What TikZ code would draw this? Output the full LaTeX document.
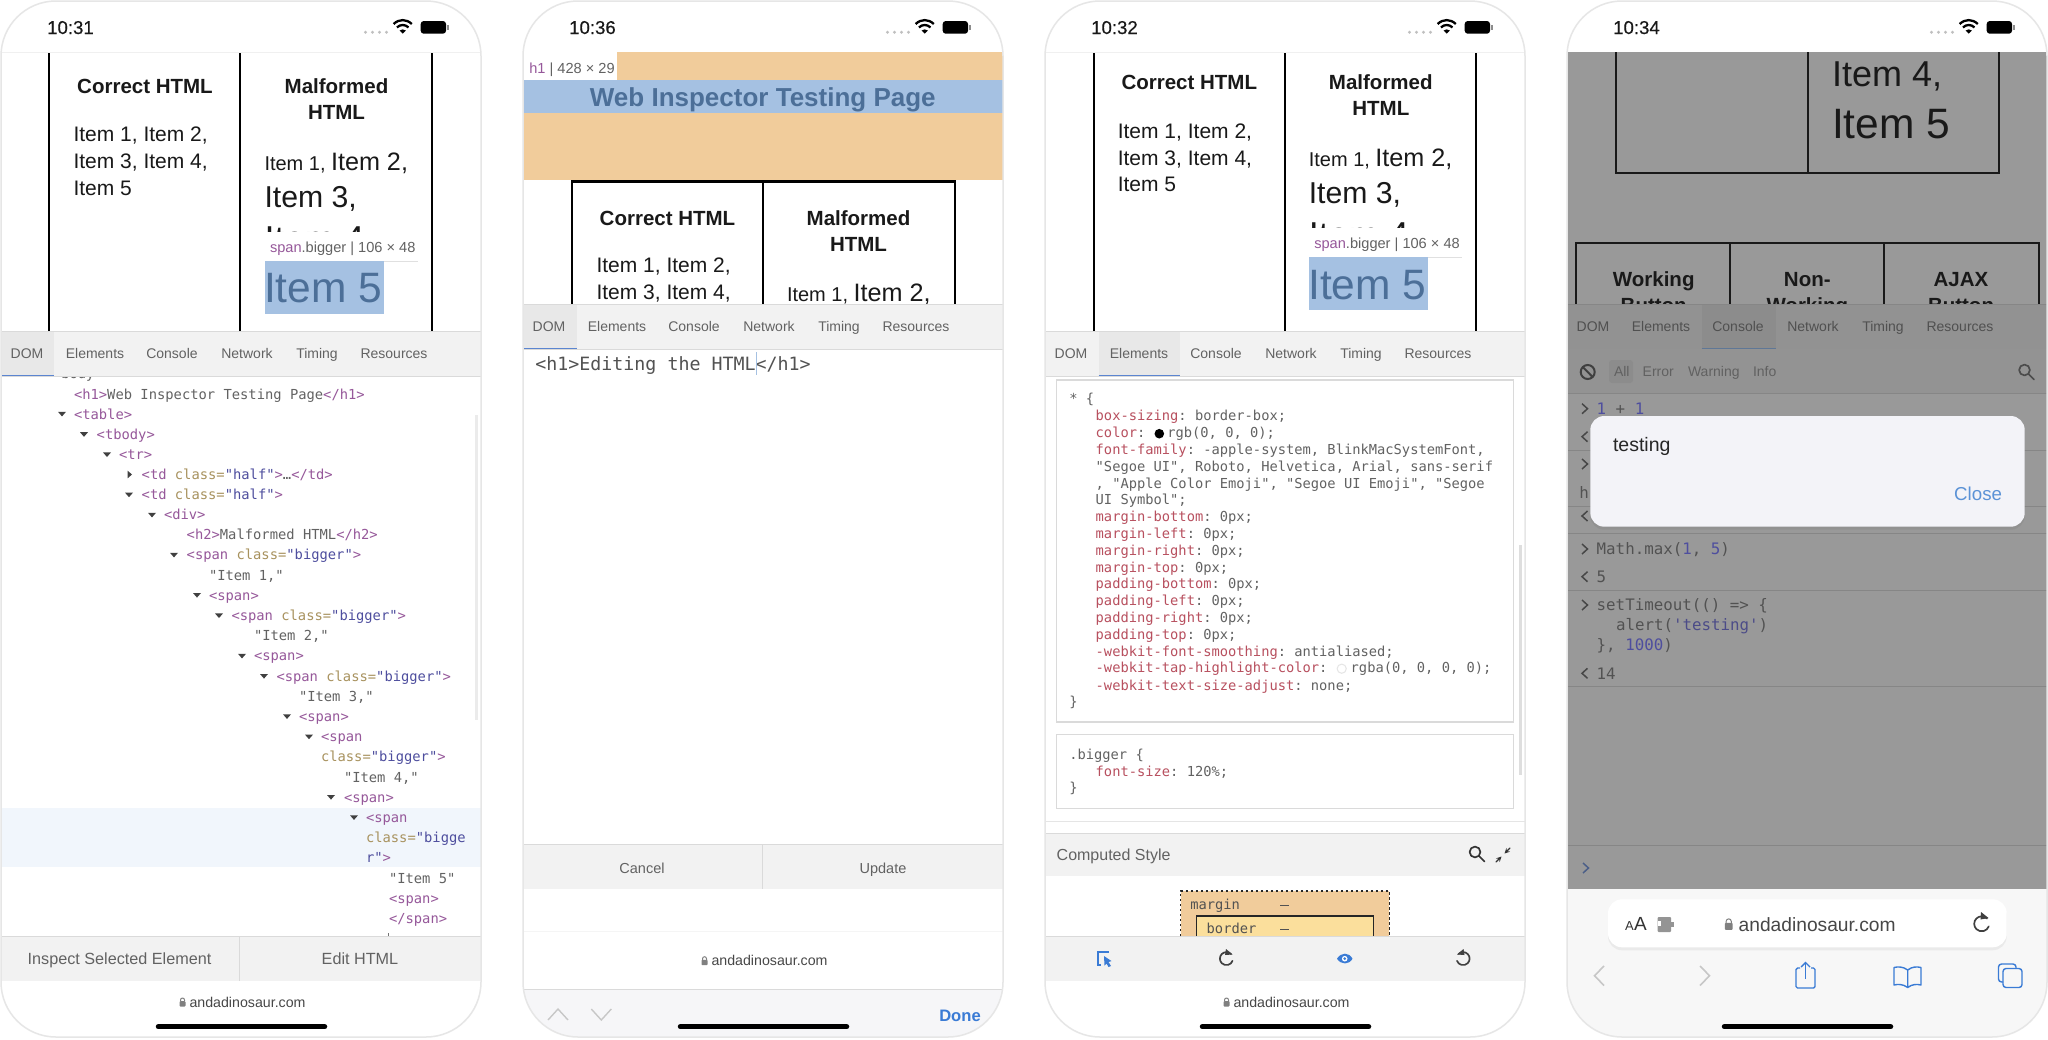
\documentclass[tikz,border=0pt]{standalone}
\usepackage{fontspec}
\setmainfont{Liberation Sans}
\setmonofont{DejaVu Sans Mono}
\newfontfamily\medfont[FakeBold=0.35]{Liberation Sans}
\usetikzlibrary{shadows}

\definecolor{framec}{HTML}{E6E6E6}
\definecolor{barc}{HTML}{F2F2F2}
\definecolor{barline}{HTML}{DADADA}
\definecolor{seltab}{HTML}{E8E8E8}
\definecolor{tabblue}{HTML}{5B85D0}
\definecolor{graytext}{HTML}{626262}
\definecolor{tagc}{HTML}{96589A}
\definecolor{attrc}{HTML}{A8925E}
\definecolor{valc}{HTML}{4E4E9E}
\definecolor{propc}{HTML}{B8505F}
\definecolor{orangec}{HTML}{F1CC9B}
\definecolor{bluec}{HTML}{A5C1E2}
\definecolor{blueink}{HTML}{4C6F98}
\definecolor{linkc}{HTML}{3A7BD5}
\definecolor{overlayc}{HTML}{999999}
\definecolor{rowc}{HTML}{F1F6FC}
\definecolor{safaric}{HTML}{F7F7F7}
\definecolor{toolc}{HTML}{F6F6F8}
\definecolor{borderboxc}{HTML}{FBDF9C}
\definecolor{darkbar}{HTML}{929292}
\definecolor{darksel}{HTML}{8C8C8C}
\definecolor{darkline}{HTML}{868686}
\definecolor{darkblue}{HTML}{5F7796}
\definecolor{darktext}{HTML}{505050}
\definecolor{darktool}{HTML}{939393}
\definecolor{dialogc}{HTML}{F3F3F8}
\definecolor{closec}{HTML}{5B92D6}
\definecolor{stringc}{HTML}{4C4C88}
\definecolor{promptc}{HTML}{4C5F88}

\newcommand{\fsz}[1]{\fontsize{#1}{#1}\selectfont}
\newcommand{\ctag}[1]{\textcolor{tagc}{#1}}
\newcommand{\cattr}[1]{\textcolor{attrc}{#1}}
\newcommand{\cval}[1]{\textcolor{valc}{#1}}
\newcommand{\cprop}[1]{\textcolor{propc}{#1}}
\newcommand{\cls}[1]{\cattr{class=}\cval{"#1"}\ctag{>}}

\tikzset{
	every node/.style={inner sep=0pt,outer sep=0pt},
	phoneshape/.style={rounded corners=55pt},
	heading/.style={anchor=base,font=\fsz{20.5}\bfseries,text=black!90},
	itemtext/.style={anchor=base west,text=black!90},
	tabtext/.style={anchor=base,font=\fsz{14},text=graytext},
	btntext/.style={anchor=base,font=\fsz{16.2},text=graytext},
	domtext/.style={anchor=base west,font=\ttfamily\fsz{13.8},text=graytext},
	csstext/.style={anchor=base west,font=\ttfamily\fsz{13.75},text=graytext},
	context/.style={anchor=base west,font=\ttfamily\fsz{15.8},text=black!68},
	urltext/.style={anchor=base west,font=\fsz{14.2},text=black!72},
	icon/.style={line width=1.7pt,line cap=round,line join=round},
	hairline/.style={draw=barline,line width=1pt}
}

\newcounter{textnum}
\newcommand{\domline}[3]{\stepcounter{textnum}\node[domtext] (dom\thetextnum) at (#1,#2) {#3};}
\newcommand{\cssline}[3]{\stepcounter{textnum}\node[csstext] (css\thetextnum) at (#1,#2) {#3};}
\newcommand{\conline}[3]{\stepcounter{textnum}\node[context] (con\thetextnum) at (#1,#2) {#3};}

% status bar: time, then wifi and battery
\newcommand{\statusbar}[2]{
	\node[anchor=base west,font=\medfont\fsz{18.6},text=black!90] (time#2) at (46.2,34) {#1};
	\foreach \x in {364.5,371.5,378.5,385.5} \fill[black!25] (\x,32.3) circle (1.6);
	\draw[line width=2.3pt] (392.6,24) .. controls (398,18.8) and (405.4,18.8) .. (410.8,24);
	\draw[line width=2.3pt] (395.9,27.4) .. controls (399.5,24.2) and (403.9,24.2) .. (407.5,27.4);
	\fill (401.7,33.6) -- (398.6,30.5) .. controls (400.5,29) and (402.9,29) .. (404.8,30.5) -- cycle;
	\fill[rounded corners=3pt] (419.7,21) rectangle (445,33.7);
	\fill[black!45] (446.3,25) rectangle (447.8,30);
}
% tab bar: top edge, left and right of the chosen tab
\newcommand{\tabbar}[3]{
	\fill[barc] (0,#1) rectangle (480,#1+45);
	\fill[seltab] (#2,#1) rectangle (#3,#1+45);
	\draw[hairline] (0,#1) -- (480,#1);
	\draw[hairline] (0,#1+45) -- (480,#1+45);
	\draw[tabblue,line width=1.2pt] (#2,#1+44.5) -- (#3,#1+44.5);
	\foreach \i/\x/\t in {1/26/DOM,2/94/Elements,3/171/Console,4/246/Network,5/316/Timing,6/393/Resources}
		\node[tabtext] (tab\i-#1) at (\x,#1+27.4) {\t};
}
\newcommand{\lockicon}[3]{
	\begin{scope}[shift={(#1,#2)},scale=#3]
		\fill[black!50,rounded corners=.8pt] (-3,-.8) rectangle (3,4.5);
		\draw[black!50,line width=1pt] (-2,-.8) -- (-2,-2) .. controls (-2,-4.6) and (2,-4.6) .. (2,-2) -- (2,-.8);
	\end{scope}
}
\newcommand{\homebar}{
	\draw[line width=5.5pt,line cap=round] (157.5,1026.7) -- (323.5,1026.7);
}
\newcommand{\urlline}[2]{
	\lockicon{181.5}{#1}{1}
	\node[urltext] (url#2) at (188.5,#1+5.2) {andadinosaur.com};
}
% the two columns seen in the first and third phone
\newcommand{\tablepage}[1]{
	\node[heading] (correct#1) at (144,93.3) {Correct HTML};
	\node[heading] (malformed#1) at (335.5,93.3) {Malformed};
	\node[heading] (html#1) at (335.5,119) {HTML};
	\node[itemtext,font=\fsz{21}] (left#1a) at (72.5,141.7) {Item 1, Item 2,};
	\node[itemtext,font=\fsz{21}] (left#1b) at (72.5,168.7) {Item 3, Item 4,};
	\node[itemtext,font=\fsz{21}] (left#1c) at (72.5,195.5) {Item 5};
	\node[itemtext,font=\fsz{20}] (right#1a) at (263.5,170) {Item 1,};
	\node[itemtext,font=\fsz{25.2}] (right#1b) at (330,170) {Item 2,};
	\node[itemtext,font=\fsz{30.2}] (right#1c) at (263.5,207) {Item 3,};
	\node[itemtext,font=\fsz{36}] (right#1d) at (263.5,251) {Item 4,};
	\fill[white] (261,232) rectangle (417,261);
	\draw[black!12,line width=1pt] (383,261) -- (417,261);
	\node[anchor=base west,font=\fsz{14.6},text=graytext] (tip#1) at (269,252) {\textcolor{tagc}{span}.bigger | 106 × 48};
	\fill[bluec] (263.5,261) rectangle (382.5,314);
	\node[itemtext,font=\fsz{42.5},text=blueink] (big#1) at (263,302.7) {Item 5};
}

\begin{document}
\begin{tikzpicture}[x=1pt,y=-1pt]
	\useasboundingbox (0,0) rectangle (2048,1039);
	\fill[white] (0,0) rectangle (2048,1039);

	% first phone, DOM tree
	\begin{scope}[shift={(1,0)}]
		\begin{scope}
			\path[clip,phoneshape] (0,1) rectangle (480,1037);
			\statusbar{10:31}{a}
			\draw[black!6,line width=1pt] (0,52) -- (480,52);
			\foreach \x in {48.3,239.3,430.7}
				\draw[line width=2.2pt] (\x,53) -- (\x,331);
			\tablepage{a}
			\fill[white] (0,376) rectangle (480,936);
			\fill[rowc] (0,808) rectangle (480,867);
			\fill[black!8] (473.5,415) rectangle (476.5,720);
			\domline{52}{378.5}{\ctag{<}body\ctag{>}}
			\domline{73}{399}{\ctag{<h1>}Web Inspector Testing Page\ctag{</h1>}}
			\domline{73}{419}{\ctag{<table>}}
			\domline{95.7}{439.2}{\ctag{<tbody>}}
			\domline{118}{459.4}{\ctag{<tr>}}
			\domline{140.7}{479.6}{\ctag{<td} \cls{half}…\ctag{</td>}}
			\domline{140.7}{499.8}{\ctag{<td} \cls{half}}
			\domline{163}{519}{\ctag{<div>}}
			\domline{185.7}{539.5}{\ctag{<h2>}Malformed HTML\ctag{</h2>}}
			\domline{185.7}{559.7}{\ctag{<span} \cls{bigger}}
			\domline{208}{580}{"Item 1,"}
			\domline{208}{600}{\ctag{<span>}}
			\domline{230.5}{620.3}{\ctag{<span} \cls{bigger}}
			\domline{253}{640.5}{"Item 2,"}
			\domline{253}{660.7}{\ctag{<span>}}
			\domline{275.5}{681}{\ctag{<span} \cls{bigger}}
			\domline{298}{701}{"Item 3,"}
			\domline{298}{721.3}{\ctag{<span>}}
			\domline{320}{741.5}{\ctag{<span}}
			\domline{320}{761.7}{\cattr{class=}\cval{"bigger"}\ctag{>}}
			\domline{343}{782}{"Item 4,"}
			\domline{343}{802}{\ctag{<span>}}
			\domline{365}{822.3}{\ctag{<span}}
			\domline{365}{842.5}{\cattr{class=}\cval{"bigge}}
			\domline{365}{862.7}{\cval{r"}\ctag{>}}
			\domline{388}{883}{"Item 5"}
			\domline{388}{903}{\ctag{<span>}}
			\domline{388}{923.2}{\ctag{</span>}}
			\draw[black!55,line width=1pt] (387.5,933) -- (387.5,935.5);
			\foreach \x/\y in {61/414,83/434.4,106/454.6,128/494.8,151/515,173/555,196/595.2,218/615.6,241/656,263/676.2,286/716.5,308/736.8,330/797.2,353/817.5}
				\fill[black!75] (\x-4,\y-2.2) -- (\x+4,\y-2.2) -- (\x,\y+2.4) -- cycle;
			\fill[black!75] (126.5,470.6) -- (126.5,478.4) -- (131,474.5) -- cycle;
			\tabbar{331}{0}{53}
			\fill[barc] (0,936) rectangle (480,981);
			\draw[hairline] (0,936) -- (480,936);
			\draw[hairline] (238.5,936) -- (238.5,981);
			\node[btntext] (inspect) at (118.5,964.8) {Inspect Selected Element};
			\node[btntext] (edit) at (359,964.8) {Edit HTML};
			\urlline{1002}{a}
			\homebar
		\end{scope}
		\draw[framec,line width=1.5pt,phoneshape] (0,1) rectangle (480,1037);
	\end{scope}

	% second phone, editing the HTML
	\begin{scope}[shift={(523,0)}]
		\begin{scope}
			\path[clip,phoneshape] (0,1) rectangle (480,1037);
			\statusbar{10:36}{b}
			\fill[orangec] (0,52) rectangle (480,180);
			\fill[white] (0,52) rectangle (94.3,80);
			\node[anchor=base west,font=\fsz{14.6},text=graytext] (hlabel) at (6.3,73) {\textcolor{tagc}{h1} | 428 × 29};
			\fill[bluec] (0,80) rectangle (480,112.5);
			\node[anchor=base,font=\fsz{26}\bfseries,text=blueink] (title) at (239.8,106.5) {Web Inspector Testing Page};
			\draw[line width=2.2pt] (49,304) -- (49,181.5) -- (431.7,181.5) -- (431.7,304);
			\draw[line width=2.2pt] (240,181.5) -- (240,304);
			\node[heading] (correctb) at (144.5,225) {Correct HTML};
			\node[heading] (malformedb) at (335.5,225) {Malformed};
			\node[heading] (htmlb) at (335.5,251) {HTML};
			\node[itemtext,font=\fsz{21}] (leftba) at (73.5,272) {Item 1, Item 2,};
			\node[itemtext,font=\fsz{21}] (leftbb) at (73.5,299) {Item 3, Item 4,};
			\node[itemtext,font=\fsz{20}] (rightba) at (264,301.7) {Item 1,};
			\node[itemtext,font=\fsz{25.2}] (rightbb) at (330.5,301.7) {Item 2,};
			\tabbar{304}{0}{54}
			\node[anchor=base west,font=\ttfamily\fsz{18.3},text=black!68] (editor) at (12.3,370) {<h1>Editing the HTML</h1>};
			\draw[bluec,line width=1pt] (233.7,352) -- (233.7,375);
			\fill[barc] (0,844.3) rectangle (480,889.3);
			\draw[hairline] (0,844.3) -- (480,844.3);
			\draw[hairline] (239,844.3) -- (239,889.3);
			\node[btntext,font=\fsz{14.5}] (cancel) at (119,873) {Cancel};
			\node[btntext,font=\fsz{14.5}] (update) at (360,873) {Update};
			\draw[black!4,line width=1pt] (0,931.7) -- (480,931.7);
			\urlline{960.7}{b}
			\fill[toolc] (0,989.3) rectangle (480,1037);
			\draw[hairline] (0,989.3) -- (480,989.3);
			\draw[black!22,line width=1.4pt] (25,1020) -- (35,1009) -- (45,1020);
			\draw[black!22,line width=1.4pt] (68.3,1009) -- (78.3,1020) -- (88.3,1009);
			\node[anchor=base,font=\fsz{16.6}\bfseries,text=linkc] (done) at (437,1021.3) {Done};
			\homebar
		\end{scope}
		\draw[framec,line width=1.5pt,phoneshape] (0,1) rectangle (480,1037);
	\end{scope}

	% third phone, styles of the element
	\begin{scope}[shift={(1045,0)}]
		\begin{scope}
			\path[clip,phoneshape] (0,1) rectangle (480,1037);
			\statusbar{10:32}{c}
			\draw[black!6,line width=1pt] (0,52) -- (480,52);
			\foreach \x in {48.7,240,431}
				\draw[line width=2.2pt] (\x,53) -- (\x,331);
			\begin{scope}[shift={(0.3,-3.7)}]
				\tablepage{c}
			\end{scope}
			\tabbar{331}{53.7}{134.7}
			\draw[hairline,line width=1.4pt] (11.7,380) rectangle (468.3,722);
			\draw[hairline,line width=1.4pt] (11.7,734.3) rectangle (468.3,808.3);
			\fill[black!13] (473.5,545) rectangle (476.5,775);
			\cssline{24.3}{403.5}{* \{}
			\cssline{50.7}{420.9}{\cprop{box-sizing}: border-box;}
			\cssline{50.7}{437.9}{\cprop{color}:}
			\fill (114.3,433.7) circle (4.8);
			\cssline{122.3}{437.9}{rgb(0, 0, 0);}
			\cssline{50.7}{454.5}{\cprop{font-family}: -apple-system, BlinkMacSystemFont,}
			\cssline{50.7}{471.2}{"Segoe UI", Roboto, Helvetica, Arial, sans-serif}
			\cssline{50.7}{488.2}{, "Apple Color Emoji", "Segoe UI Emoji", "Segoe}
			\cssline{50.7}{504.9}{UI Symbol";}
			\cssline{50.7}{521.6}{\cprop{margin-bottom}: 0px;}
			\cssline{50.7}{538.9}{\cprop{margin-left}: 0px;}
			\cssline{50.7}{555.5}{\cprop{margin-right}: 0px;}
			\cssline{50.7}{572.2}{\cprop{margin-top}: 0px;}
			\cssline{50.7}{588.9}{\cprop{padding-bottom}: 0px;}
			\cssline{50.7}{605.5}{\cprop{padding-left}: 0px;}
			\cssline{50.7}{622.2}{\cprop{padding-right}: 0px;}
			\cssline{50.7}{639.2}{\cprop{padding-top}: 0px;}
			\cssline{50.7}{656.2}{\cprop{-webkit-font-smoothing}: antialiased;}
			\cssline{50.7}{672.9}{\cprop{-webkit-tap-highlight-color}:}
			\draw[black!10,line width=1pt] (296.7,668.7) circle (4.6);
			\cssline{305.7}{672.9}{rgba(0, 0, 0, 0);}
			\cssline{50.7}{690.2}{\cprop{-webkit-text-size-adjust}: none;}
			\cssline{24.3}{706.2}{\}}
			\cssline{24.3}{759.5}{.bigger \{}
			\cssline{50.7}{776.2}{\cprop{font-size}: 120\%;}
			\cssline{24.3}{792.9}{\}}
			\draw[black!10,line width=1pt] (0,821) -- (480,821);
			\fill[barc] (0,833.3) rectangle (480,876);
			\draw[hairline] (0,833.3) -- (480,833.3);
			\node[anchor=base west,font=\fsz{16},text=graytext] (computed) at (11.7,860.5) {Computed Style};
			\draw[icon,black!80] (430,852) circle (5.4);
			\draw[icon,black!80] (434,856) -- (439.5,861.5);
			\draw[icon,black!80,line width=1.3pt,-stealth] (451,862) -- (456.5,856.5);
			\draw[icon,black!80,line width=1.3pt,-stealth] (465,848) -- (459.5,853.5);
			\fill[orangec] (135.7,891) rectangle (344.3,936);
			\draw[black!85,dashed,dash pattern=on 2.5pt off 2.5pt,line width=1.2pt] (135.7,936) -- (135.7,891) -- (344.3,891) -- (344.3,936);
			\cssline{145.3}{909.5}{\textcolor{black!68}{margin}}
			\draw[black!68,line width=1pt] (235,905) -- (244,905);
			\fill[borderboxc] (151.7,916) rectangle (328.3,936);
			\draw[black!85,line width=1.2pt] (151.7,936) -- (151.7,916) -- (328.3,916) -- (328.3,936);
			\cssline{161.7}{933.5}{\textcolor{black!68}{border}}
			\draw[black!68,line width=1pt] (235,929) -- (244,929);
			\fill[barc] (0,936) rectangle (480,981);
			\draw[hairline] (0,936) -- (480,936);
			\draw[linkc,line width=1.2pt] (64,952) -- (53,952) -- (53,965) -- (56,965);
			\fill[linkc] (59,956) -- (66.5,961) -- (63.5,962) -- (66,966) -- (63.5,967) -- (61.5,963.5) -- (59.5,965.5) -- cycle;
			\draw[icon,black!75] (186,954) arc (-45:-340:6.5);
			\fill[black!75] (181,949) -- (187.5,954.5) -- (180,955) -- cycle;
			\fill[linkc] (292,958.7) .. controls (296,952) and (304,952) .. (307.5,958.7) .. controls (304,965) and (296,965) .. (292,958.7) -- cycle;
			\fill[white] (299.7,958.7) circle (2.8);
			\fill[linkc] (299.7,958.7) circle (1.5);
			\draw[icon,black!75] (413.5,954) arc (-135:160:6.5);
			\fill[black!75] (418.5,949) -- (412,954.5) -- (419.5,955) -- cycle;
			\urlline{1002}{c}
			\homebar
		\end{scope}
		\draw[framec,line width=1.5pt,phoneshape] (0,1) rectangle (480,1037);
	\end{scope}

	% fourth phone, console with an alert
	\begin{scope}[shift={(1567,0)}]
		\begin{scope}
			\path[clip,phoneshape] (0,1) rectangle (480,1037);
			\statusbar{10:34}{d}
			\fill[overlayc] (0,52) rectangle (480,889.3);
			\draw[black!90,line width=1.8pt] (49.3,52) -- (49.3,173.3) -- (431.7,173.3) -- (431.7,52);
			\draw[black!90,line width=1.8pt] (240.7,52) -- (240.7,173.3);
			\node[itemtext,font=\fsz{36}] (fourthd) at (265,86) {Item 4,};
			\node[itemtext,font=\fsz{42.5}] (fifthd) at (265,138) {Item 5};
			\draw[black!90,line width=1.8pt] (9.3,304) -- (9.3,243) -- (471.7,243) -- (471.7,304);
			\draw[black!90,line width=1.8pt] (163.3,243) -- (163.3,304);
			\draw[black!90,line width=1.8pt] (317.3,243) -- (317.3,304);
			\node[heading] (working) at (86.7,286.5) {Working};
			\node[heading] (non) at (240.3,286.5) {Non-};
			\node[heading] (ajax) at (394,286.5) {AJAX};
			\node[heading] (buttona) at (86.7,312.5) {Button};
			\node[heading] (workingb) at (240.3,312.5) {Working};
			\node[heading] (buttonb) at (394,312.5) {Button};
			\begin{scope}
				\colorlet{barc}{darkbar}
				\colorlet{seltab}{darksel}
				\colorlet{barline}{darkline}
				\colorlet{tabblue}{darkblue}
				\colorlet{graytext}{darktext}
				\tabbar{304}{134.7}{209}
			\end{scope}
			\fill[darktool] (0,349) rectangle (480,393);
			\draw[darkline,line width=1pt] (0,393) -- (480,393);
			\draw[black!75,line width=2pt] (20.7,372) circle (7);
			\draw[black!75,line width=2pt] (15.8,367) -- (25.6,377);
			\fill[darksel,rounded corners=3pt] (42,360) rectangle (66,383);
			\foreach \i/\x/\t in {1/47/All,2/75.7/Error,3/121/Warning,4/186/Info}
				\node[anchor=base west,font=\fsz{14},text=black!62] (filter\i) at (\x,376.3) {\t};
			\draw[icon,black!70] (457.5,370) circle (5.4);
			\draw[icon,black!70] (461.5,374) -- (467,379.5);
			\conline{29.7}{414}{\textcolor{valc}{1} + \textcolor{valc}{1}}
			\foreach \y in {450.7,506.7,533,590,686.7,845}
				\draw[darkline,line width=1pt] (0,\y) -- (480,\y);
			\foreach \y in {408.7,464,549,605}
				\draw[black!72,line width=1.5pt] (15,\y-5) -- (20.5,\y) -- (15,\y+5);
			\foreach \y in {436.7,516,576.7,673.3}
				\draw[black!72,line width=1.5pt] (20.5,\y-5) -- (15,\y) -- (20.5,\y+5);
			\conline{12.3}{498}{h}
			\node[fill=dialogc,rounded corners=14pt,minimum width=434.4pt,minimum height=110.7pt,anchor=north west,drop shadow={shadow xshift=0pt,shadow yshift=-3pt,opacity=.3}] (dialog) at (23.3,416) {};
			\node[anchor=base west,font=\fsz{19.5},text=black!85] (testing) at (46,451) {testing};
			\node[anchor=base east,font=\fsz{18.7},text=closec] (closebtn) at (435,500) {Close};
			\conline{29.7}{554.5}{Math.max(\textcolor{valc}{1}, \textcolor{valc}{5})}
			\conline{29.7}{582.5}{5}
			\conline{29.7}{610.5}{setTimeout(() => \{}
			\conline{49}{630.5}{alert(\textcolor{stringc}{'testing'})}
			\conline{29.7}{650.5}{\}, \textcolor{valc}{1000})}
			\conline{29.7}{679}{14}
			\draw[promptc,line width=1.5pt] (16,863) -- (21.5,868) -- (16,873);
			\fill[safaric] (0,889.3) rectangle (480,1037);
			\node[fill=white,rounded corners=14pt,minimum width=398.7pt,minimum height=48pt,anchor=north west,drop shadow={shadow xshift=0pt,shadow yshift=-3pt,opacity=.1}] (urlpill) at (41,899.3) {};
			\node[anchor=base west,font=\fsz{13},text=black!80] (smalla) at (58,930) {A};
			\node[anchor=base west,font=\fsz{19},text=black!80] (biga) at (67,930) {A};
			\fill[black!42,rounded corners=1pt] (90.5,917) rectangle (104,932);
			\fill[black!42] (104,922) rectangle (107,926.5);
			\fill[white] (90.5,921) rectangle (94,926);
			\lockicon{161.7}{924}{1.3}
			\node[urltext,font=\fsz{19.2}] (urld) at (171.7,931) {andadinosaur.com};
			\draw[icon,black!75] (420,918.5) arc (-45:-340:7.5);
			\fill[black!75] (414,912) -- (421.5,918) -- (413.5,919.5) -- cycle;
			\draw[black!22,line width=1.6pt] (37,966) -- (27.5,975.7) -- (37,985.5);
			\draw[black!22,line width=1.6pt] (133,966) -- (142.5,975.7) -- (133,985.5);
			\draw[linkc,line width=1.4pt,rounded corners=1.5pt] (233,968) -- (229,968) -- (229,988) -- (248,988) -- (248,968) -- (244,968);
			\draw[linkc,line width=1.4pt] (238.5,979) -- (238.5,963);
			\draw[linkc,line width=1.4pt] (234,967) -- (238.5,962.5) -- (243,967);
			\draw[linkc,line width=1.4pt,line join=round] (340.7,970) .. controls (336,966.5) and (331,966.5) .. (327,967.5) -- (327,985) .. controls (331,984) and (336,984) .. (340.7,987.5) .. controls (345,984) and (350,984) .. (354,985) -- (354,967.5) .. controls (350,966.5) and (345,966.5) .. (340.7,970) -- (340.7,987.5);
			\draw[linkc,line width=1.4pt,rounded corners=3pt] (436,982) -- (431.5,982) -- (431.5,964) -- (449,964) -- (449,968);
			\draw[linkc,line width=1.4pt,rounded corners=3pt] (436,968.5) rectangle (455,987.5);
			\homebar
		\end{scope}
		\draw[framec,line width=1.5pt,phoneshape] (0,1) rectangle (480,1037);
	\end{scope}
\end{tikzpicture}
\end{document}
